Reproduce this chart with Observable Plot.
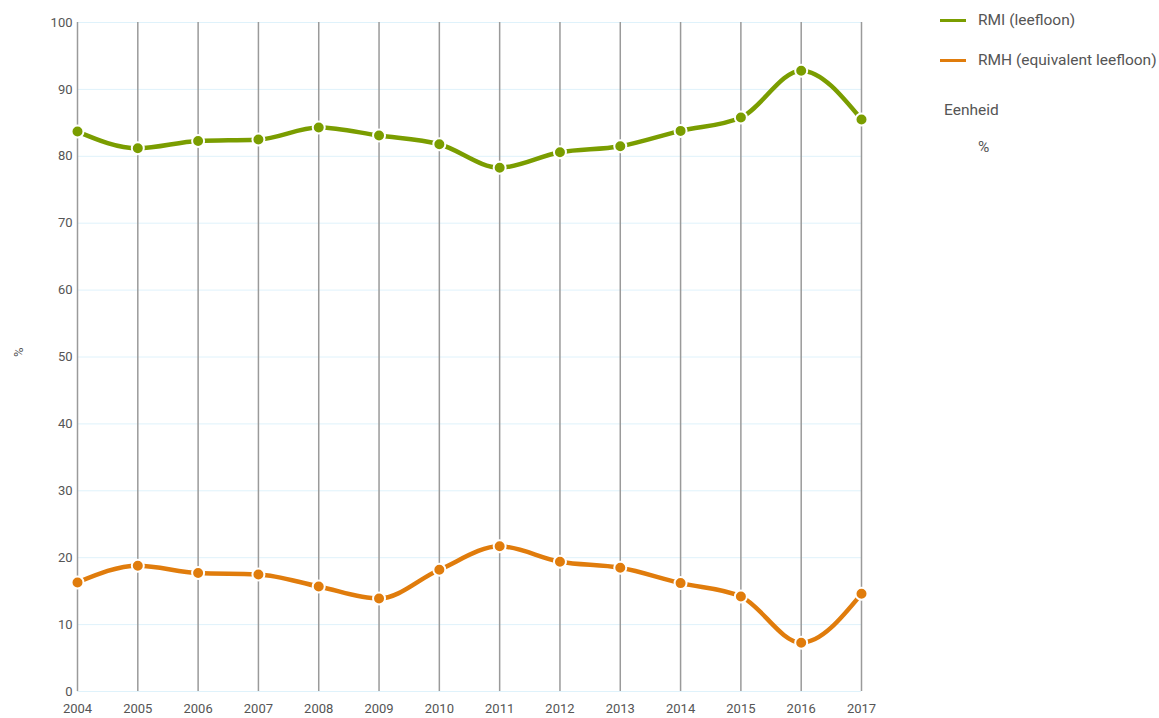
<!DOCTYPE html>
<html>
<head>
<meta charset="utf-8">
<script src="https://cdn.jsdelivr.net/npm/d3@7"></script>
<script src="https://cdn.jsdelivr.net/npm/@observablehq/plot@0.6"></script>
<style>
  html, body { margin: 0; padding: 0; background: #fff; overflow: hidden; }
  #wrap { position: relative; width: 1159px; height: 718px; font-family: Roboto, "Noto Sans", sans-serif; }
  #chart { position: absolute; left: 0; top: 0; }
  .leg { position: absolute; color: #555; font-size: 15.5px; white-space: nowrap; }
  .sw { position: absolute; width: 26px; height: 3px; }
</style>
</head>
<body>
<div id="wrap">
  <div id="chart"></div>
  <div class="sw" style="left:940px;top:19px;background:#7a9d00"></div>
  <div class="leg" style="left:978px;top:11px">RMI (leefloon)</div>
  <div class="sw" style="left:940px;top:59px;background:#e07c0c"></div>
  <div class="leg" style="left:978px;top:51px">RMH (equivalent leefloon)</div>
  <div class="leg" style="left:944px;top:101px">Eenheid</div>
  <div class="leg" style="left:978px;top:138px">%</div>
</div>
<script>
const years = [2004,2005,2006,2007,2008,2009,2010,2011,2012,2013,2014,2015,2016,2017];
const rmi = [83.7,81.2,82.3,82.5,84.3,83.1,81.8,78.3,80.6,81.5,83.8,85.8,92.8,85.5];
const rmh = [16.3,18.8,17.7,17.5,15.7,13.9,18.2,21.7,19.4,18.5,16.2,14.2,7.3,14.6];
const seriesNames = ["RMI (leefloon)", "RMH (equivalent leefloon)"];
const seriesColors = ["#7a9d00", "#e07c0c"];
const yTicks = [0,10,20,30,40,50,60,70,80,90,100];

const data = [];
years.forEach((y, i) => {
  data.push({year: y, value: rmi[i], series: seriesNames[0]});
  data.push({year: y, value: rmh[i], series: seriesNames[1]});
});

const chart = Plot.plot({
  width: 900,
  height: 718,
  marginLeft: 77,
  marginRight: 39,
  marginTop: 22,
  marginBottom: 27,
  style: {fontFamily: "Roboto, 'Noto Sans', sans-serif", fontSize: "13px", color: "#555", background: "transparent"},
  x: {domain: [2004, 2017], ticks: years, tickFormat: d => String(d), tickSize: 0, tickPadding: 12, label: null},
  y: {domain: [0, 100], ticks: yTicks, tickSize: 0, tickPadding: 5, label: null},
  color: {domain: seriesNames, range: seriesColors},
  marks: [
    Plot.ruleY(yTicks, {stroke: "#dff2fb", strokeWidth: 1}),
    Plot.ruleX(years, {y1: 0, y2: 100, stroke: "#9a9a9a", strokeWidth: 1.5}),
    Plot.line(data, {x: "year", y: "value", z: "series", stroke: "series", strokeWidth: 4.5, curve: "monotone-x"}),
    Plot.dot(data, {x: "year", y: "value", fill: "series", stroke: "white", strokeWidth: 2, r: 6}),
    Plot.axisX({ticks: years, tickFormat: d => String(d), tickSize: 0, tickPadding: 12, label: null, fill: "#555"}),
    Plot.axisY({ticks: yTicks, tickSize: 0, tickPadding: 5, label: null, fill: "#555"}),
    Plot.text(["%"], {frameAnchor: "left", dx: -59, rotate: -90, fontSize: 13, fill: "#555"})
  ]
});
document.getElementById("chart").appendChild(chart);
</script>
</body>
</html>
